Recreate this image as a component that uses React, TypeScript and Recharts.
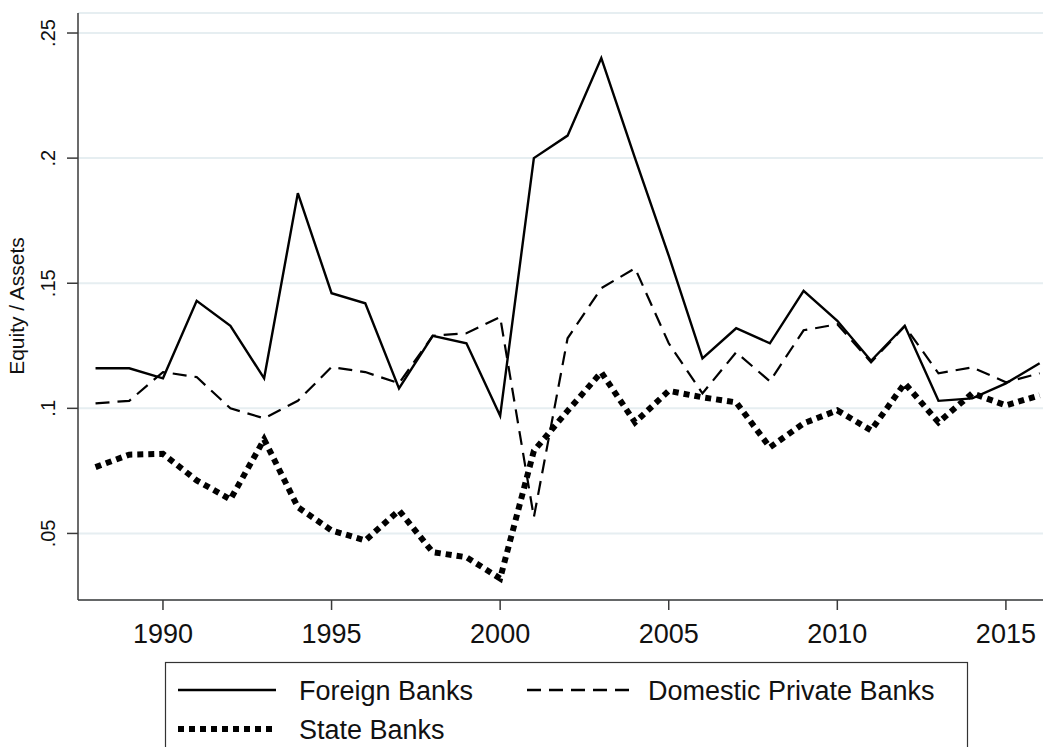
import { LineChart, Line, XAxis, YAxis, CartesianGrid } from "recharts";

const YEARS = [
  1988, 1989, 1990, 1991, 1992, 1993, 1994, 1995, 1996, 1997,
  1998, 1999, 2000, 2001, 2002, 2003, 2004, 2005, 2006, 2007,
  2008, 2009, 2010, 2011, 2012, 2013, 2014, 2015, 2016,
];

const FOREIGN = [
  0.116, 0.116, 0.112, 0.143, 0.133, 0.112, 0.186, 0.146, 0.142, 0.108,
  0.129, 0.126, 0.097, 0.2, 0.209, 0.24, 0.2, 0.161, 0.12, 0.132,
  0.126, 0.147, 0.135, 0.119, 0.133, 0.103, 0.104, 0.11, 0.118,
];

const DOMESTIC = [
  0.102, 0.103, 0.1145, 0.1125, 0.1, 0.096, 0.103, 0.1165, 0.1145, 0.11,
  0.129, 0.13, 0.1365, 0.0565, 0.128, 0.148, 0.156, 0.126, 0.106, 0.1224,
  0.1108, 0.1312, 0.1336, 0.1184, 0.1328, 0.114, 0.1164, 0.1104, 0.114,
];

const STATE = [
  0.0765, 0.0815, 0.0818, 0.0712, 0.0636, 0.0876, 0.0605, 0.0512, 0.0472, 0.0592,
  0.0425, 0.0405, 0.032, 0.083, 0.099, 0.1144, 0.0944, 0.107, 0.1044, 0.1024,
  0.0844, 0.094, 0.0992, 0.0912, 0.11, 0.0944, 0.106, 0.1012, 0.1052,
];

const SERIES_NAMES = ["Foreign Banks", "Domestic Private Banks", "State Banks"];
const X_TICKS = [1990, 1995, 2000, 2005, 2010, 2015];
const Y_TICKS = [0.05, 0.1, 0.15, 0.2, 0.25];
const Y_TITLE = "Equity / Assets";

const FONT = "'Liberation Sans', Arial, sans-serif";
const AXIS = "#3a3a3a";

const data = YEARS.map((year, i) => ({
  year,
  foreign: FOREIGN[i],
  domestic: DOMESTIC[i],
  state: STATE[i],
}));

// Stata style: ".05" instead of "0.05"
const stataFmt = (v: number) => String(v).replace(/^0/, "");

function YTick({ y, payload }: any) {
  return (
    <text
      x={55}
      y={y}
      transform={`rotate(-90, 55, ${y})`}
      textAnchor="middle"
      fontSize={20}
      fontFamily={FONT}
      fill="#111"
    >
      {stataFmt(payload.value)}
    </text>
  );
}

function XTick({ x, payload }: any) {
  return (
    <text x={x} y={643} textAnchor="middle" fontSize={27} fontFamily={FONT} fill="#111">
      {payload.value}
    </text>
  );
}

function Overlay() {
  return (
    <svg
      width={1043}
      height={747}
      style={{ position: "absolute", left: 0, top: 0, pointerEvents: "none" }}
    >
      <text
        x={24}
        y={306}
        transform="rotate(-90, 24, 306)"
        textAnchor="middle"
        fontSize={21}
        fontFamily={FONT}
        fill="#111"
      >
        {Y_TITLE}
      </text>
      <rect x={165.5} y={662.5} width={802} height={100} fill="#fff" stroke="#333" strokeWidth={1.2} />
      <line x1={178} y1={690} x2={276} y2={690} stroke="#000" strokeWidth={2.4} />
      <text x={299} y={700} fontSize={27} fontFamily={FONT} fill="#111">{SERIES_NAMES[0]}</text>
      <line x1={527} y1={690} x2={636} y2={690} stroke="#000" strokeWidth={2.4} strokeDasharray="14 8" />
      <text x={648} y={700} fontSize={27} fontFamily={FONT} fill="#111">{SERIES_NAMES[1]}</text>
      <line x1={178} y1={729} x2={276} y2={729} stroke="#000" strokeWidth={6} strokeDasharray="6 5" />
      <text x={299} y={739} fontSize={27} fontFamily={FONT} fill="#111">{SERIES_NAMES[2]}</text>
    </svg>
  );
}

export default function App() {
  return (
    <div style={{ position: "absolute", left: 0, top: 0, width: 1043, height: 747, background: "#fff" }}>
      <LineChart
        width={1043}
        height={747}
        data={data}
        margin={{ top: 13, right: 0, bottom: 107, left: 0 }}
      >
        <CartesianGrid horizontal vertical={false} stroke="#e6eef1" strokeWidth={2} />
        <XAxis
          dataKey="year"
          type="number"
          domain={[1987.48, 2016.1]}
          allowDataOverflow
          ticks={X_TICKS}
          height={40}
          tickSize={10}
          tick={<XTick />}
          axisLine={{ stroke: AXIS, strokeWidth: 1.5 }}
          tickLine={{ stroke: AXIS, strokeWidth: 1.5 }}
        />
        <YAxis
          type="number"
          domain={[0.0234, 0.258]}
          allowDataOverflow
          ticks={Y_TICKS}
          width={78}
          tickSize={11}
          tick={<YTick />}
          axisLine={{ stroke: AXIS, strokeWidth: 1.5 }}
          tickLine={{ stroke: AXIS, strokeWidth: 1.5 }}
        />
        <Line
          dataKey="foreign"
          name={SERIES_NAMES[0]}
          type="linear"
          stroke="#000"
          strokeWidth={2.4}
          dot={false}
          activeDot={false}
          isAnimationActive={false}
        />
        <Line
          dataKey="domestic"
          name={SERIES_NAMES[1]}
          type="linear"
          stroke="#000"
          strokeWidth={2.2}
          strokeDasharray="14 8"
          dot={false}
          activeDot={false}
          isAnimationActive={false}
        />
        <Line
          dataKey="state"
          name={SERIES_NAMES[2]}
          type="linear"
          stroke="#000"
          strokeWidth={6}
          strokeDasharray="6 5"
          dot={false}
          activeDot={false}
          isAnimationActive={false}
        />
      </LineChart>
      <Overlay />
    </div>
  );
}
